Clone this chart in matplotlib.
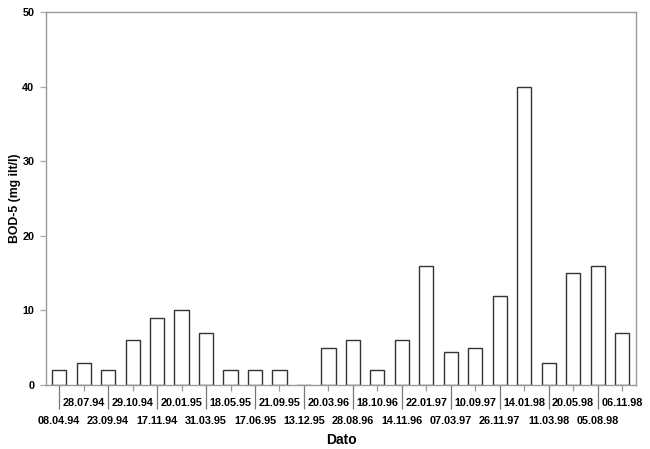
import numpy as np
import matplotlib
matplotlib.use("Agg")
import matplotlib.pyplot as plt

# sampling dates, in the order they appear on the x axis
dates = ["08.04.94", "28.07.94", "23.09.94", "29.10.94", "17.11.94", "20.01.95",
         "31.03.95", "18.05.95", "17.06.95", "21.09.95", "13.12.95", "20.03.96",
         "28.08.96", "18.10.96", "14.11.96", "22.01.97", "07.03.97", "10.09.97",
         "26.11.97", "14.01.98", "11.03.98", "20.05.98", "05.08.98", "06.11.98"]
bod5 = [2, 3, 2, 6, 9, 10, 7, 2, 2, 2, 0, 5, 6, 2, 6, 16, 4.4, 5, 12, 40, 3, 15, 16, 7]
yticks = [0, 10, 20, 30, 40, 50]

plt.rcParams['font.family'] = ['Liberation Sans', 'DejaVu Sans']
plt.rcParams['font.weight'] = 'bold'

fig = plt.figure(figsize=(6.5, 4.49), dpi=100)
ax = fig.add_axes([0.0708, 0.1425, 0.9077, 0.8305])

x = np.arange(len(dates))
ax.bar(x, bod5, width=0.58, color='white', edgecolor='#333333', linewidth=1.0)

ax.set_xlim(-0.54, len(dates) - 1 + 0.57)
ax.set_ylim(0, 50)
ax.set_yticks(yticks)
ax.set_yticklabels([str(v) for v in yticks], fontsize=7.8, fontweight='bold')

# staggered date labels: even ones low with long ticks, odd ones high with short ticks
ax.set_xticks(x[::2])
ax.set_xticklabels(dates[::2], fontsize=7.8, fontweight='bold')
ax.set_xticks(x[1::2], minor=True)
ax.set_xticklabels(dates[1::2], minor=True, fontsize=7.8, fontweight='bold')
ax.tick_params(axis='x', which='major', length=17.3, width=0.9, color='#777777', pad=5)
ax.tick_params(axis='x', which='minor', length=4.3, width=0.9, color='#999999', pad=5)
ax.tick_params(axis='y', length=4.3, width=0.9, color='#aaaaaa', pad=4)

for s in ax.spines.values():
    s.set_color('#999999')
    s.set_linewidth(1.0)

ax.set_xlabel('Dato', fontsize=10, fontweight='bold', labelpad=5)
ax.set_ylabel('BOD-5 (mg ilt/l)', fontsize=8.8, fontweight='bold', labelpad=1)

fig.savefig('out.png', dpi=100)
